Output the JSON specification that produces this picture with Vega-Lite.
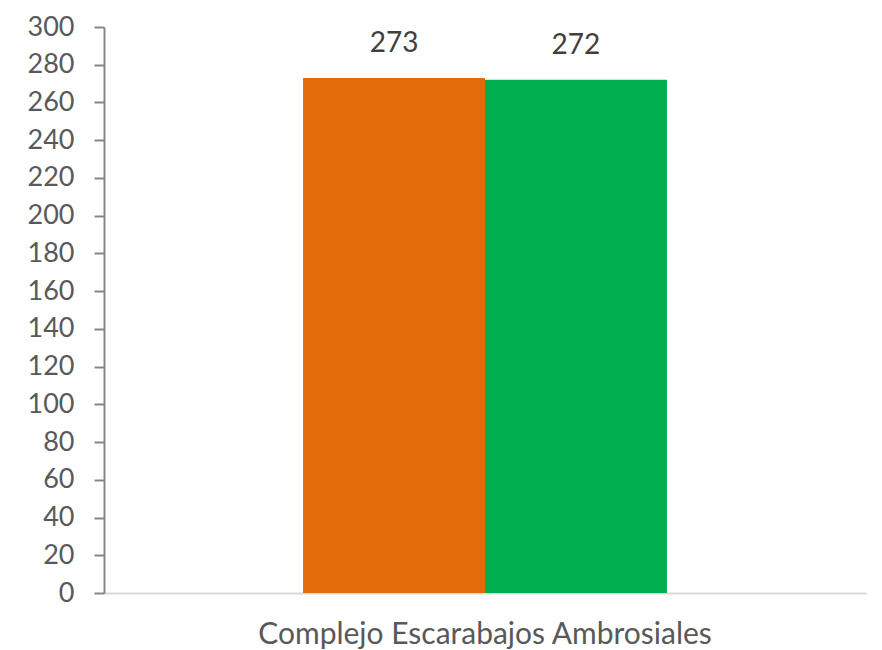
{
  "$schema": "https://vega.github.io/schema/vega-lite/v6.json",
  "width": 762,
  "height": 566,
  "autosize": {"type": "none"},
  "padding": {"left": 104, "top": 27, "right": 16, "bottom": 57},
  "background": "white",
  "config": {"view": {"stroke": null}},
  "data": {"values": [
    {"category": "Complejo Escarabajos Ambrosiales", "series": "A", "value": 273},
    {"category": "Complejo Escarabajos Ambrosiales", "series": "B", "value": 272}
  ]},
  "encoding": {
    "x": {"field": "category", "type": "nominal", "title": null,
      "scale": {"paddingInner": 0, "paddingOuter": 0.547},
      "axis": {"labelAngle": 0, "domainColor": "#d9d9d9", "domainWidth": 2, "ticks": false, "labelLimit": 0,
        "labelFont": "Lato", "labelFontSize": 30, "labelColor": "#595959", "labelPadding": 26, "labelFontWeight": "normal"}},
    "xOffset": {"field": "series", "type": "nominal", "scale": {"paddingInner": 0, "paddingOuter": 0}},
    "y": {"field": "value", "type": "quantitative", "title": null,
      "scale": {"domain": [0, 300], "nice": false},
      "axis": {"values": [0,20,40,60,80,100,120,140,160,180,200,220,240,260,280,300], "grid": false,
        "domainColor": "#868686", "domainWidth": 2, "tickColor": "#868686", "tickWidth": 2, "tickSize": 10,
        "labelFont": "Lato", "labelFontSize": 27, "labelColor": "#595959", "labelPadding": 20}}
  },
  "layer": [
    {"mark": {"type": "bar"},
      "encoding": {"color": {"field": "series", "type": "nominal", "legend": null,
        "scale": {"domain": ["A", "B"], "range": ["#e36c0a", "#00b050"]}}}},
    {"mark": {"type": "text", "baseline": "bottom", "dy": -20, "font": "Lato", "fontSize": 28, "color": "#404040"},
      "encoding": {"text": {"field": "value", "type": "quantitative"}}}
  ]
}
